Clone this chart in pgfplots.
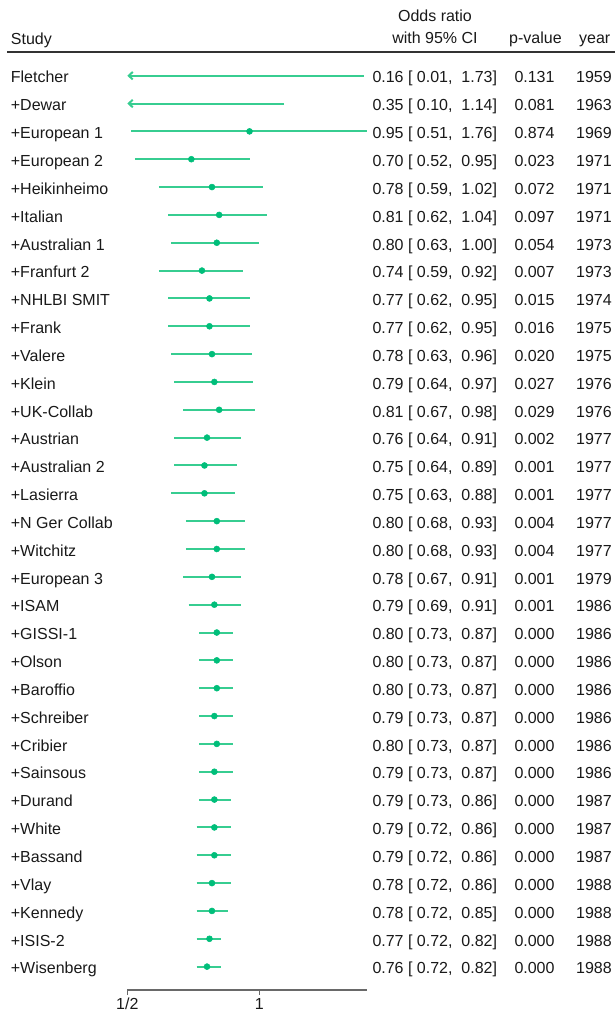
\documentclass[border=0pt]{standalone}
\usepackage{fontspec}
\setmainfont{Liberation Sans}
\usepackage{pgfplots}
\pgfplotsset{compat=1.18}
\usetikzlibrary{arrows.meta}
\definecolor{ciline}{RGB}{55,205,145}
\definecolor{cipt}{RGB}{0,190,122}
\definecolor{txt}{RGB}{25,25,25}
\definecolor{axgray}{RGB}{105,105,105}
\definecolor{hdrline}{RGB}{50,50,50}

% point estimates that fall inside the plotted range
\pgfplotstableread{
or row
0.95 3
0.70 4
0.78 5
0.81 6
0.80 7
0.74 8
0.77 9
0.77 10
0.78 11
0.79 12
0.81 13
0.76 14
0.75 15
0.75 16
0.80 17
0.80 18
0.78 19
0.79 20
0.80 21
0.80 22
0.80 23
0.79 24
0.80 25
0.79 26
0.79 27
0.79 28
0.79 29
0.78 30
0.78 31
0.77 32
0.76 33
}\ortable

\newcommand\fs{\fontsize{16}{19}\selectfont}
\newcommand\srow[5]{%
  \node[anchor=base west] at (10.7pt,{(930-(#1-1)*27.84)*1pt}) {#2};
  \node[anchor=base west] at (372.3pt,{(930-(#1-1)*27.84)*1pt}) {#3};
  \node[anchor=base west] at (514.3pt,{(930-(#1-1)*27.84)*1pt}) {#4};
  \node[anchor=base west] at (576pt,{(930-(#1-1)*27.84)*1pt}) {#5};
}

\begin{document}
\begin{tikzpicture}[every node/.style={font=\fs, text=txt, inner sep=0pt}]
\path[use as bounding box] (0pt,0pt) rectangle (615pt,1013pt);
\begin{axis}[
  at={(127.3pt,23pt)}, anchor=south west,
  scale only axis, width=239.6pt, height=938pt,
  xmode=log, xmin=0.5, xmax=1.76,
  ymin=0.149, ymax=33.84, y dir=reverse,
  axis x line*=bottom, axis y line=none,
  xtick={0.5,1}, xticklabels={1/2,1},
  xminorticks=false, ytick=\empty,
  tick align=outside, major tick length=4.5pt,
  axis line style={axgray, line width=1.5pt},
  xtick style={axgray, line width=1.5pt},
  xticklabel style={font=\fs, text=txt, inner sep=0pt, anchor=north, yshift=-3.5pt},
  every axis plot/.append style={line width=2pt},
]
% truncated intervals (lower limit below 1/2)
\addplot[ciline, -{Straight Barb[length=4pt,width=7.5pt]}] coordinates {(1.73,1) (0.5,1)};
\addplot[ciline, -{Straight Barb[length=4pt,width=7.5pt]}] coordinates {(1.14,2) (0.5,2)};
% confidence intervals
\addplot[ciline] coordinates {(0.51,3) (1.76,3)};
\addplot[ciline] coordinates {(0.52,4) (0.95,4)};
\addplot[ciline] coordinates {(0.59,5) (1.02,5)};
\addplot[ciline] coordinates {(0.62,6) (1.04,6)};
\addplot[ciline] coordinates {(0.63,7) (1.00,7)};
\addplot[ciline] coordinates {(0.59,8) (0.92,8)};
\addplot[ciline] coordinates {(0.62,9) (0.95,9)};
\addplot[ciline] coordinates {(0.62,10) (0.95,10)};
\addplot[ciline] coordinates {(0.63,11) (0.96,11)};
\addplot[ciline] coordinates {(0.64,12) (0.97,12)};
\addplot[ciline] coordinates {(0.67,13) (0.98,13)};
\addplot[ciline] coordinates {(0.64,14) (0.91,14)};
\addplot[ciline] coordinates {(0.64,15) (0.89,15)};
\addplot[ciline] coordinates {(0.63,16) (0.88,16)};
\addplot[ciline] coordinates {(0.68,17) (0.93,17)};
\addplot[ciline] coordinates {(0.68,18) (0.93,18)};
\addplot[ciline] coordinates {(0.67,19) (0.91,19)};
\addplot[ciline] coordinates {(0.69,20) (0.91,20)};
\addplot[ciline] coordinates {(0.73,21) (0.87,21)};
\addplot[ciline] coordinates {(0.73,22) (0.87,22)};
\addplot[ciline] coordinates {(0.73,23) (0.87,23)};
\addplot[ciline] coordinates {(0.73,24) (0.87,24)};
\addplot[ciline] coordinates {(0.73,25) (0.87,25)};
\addplot[ciline] coordinates {(0.73,26) (0.87,26)};
\addplot[ciline] coordinates {(0.73,27) (0.86,27)};
\addplot[ciline] coordinates {(0.72,28) (0.86,28)};
\addplot[ciline] coordinates {(0.72,29) (0.86,29)};
\addplot[ciline] coordinates {(0.72,30) (0.86,30)};
\addplot[ciline] coordinates {(0.72,31) (0.85,31)};
\addplot[ciline] coordinates {(0.72,32) (0.82,32)};
\addplot[ciline] coordinates {(0.72,33) (0.82,33)};
% point estimates
\addplot[only marks, mark=*, mark size=3pt, mark options={fill=cipt, draw=cipt, line width=0.5pt}] table[x=or, y=row] {\ortable};
\end{axis}

% header
\draw[hdrline, line width=1.5pt] (7.3pt,961pt) -- (615pt,961pt);
\node[anchor=base west] at (10.7pt,968.5pt) {Study};
\node[anchor=base] at (435pt,991.3pt) {Odds ratio};
\node[anchor=base] at (435pt,969pt) {with 95\% CI};
\node[anchor=base west] at (509pt,969pt) {p-value};
\node[anchor=base west] at (579pt,969pt) {year};

% rows
\srow{1}{Fletcher}{0.16 [ 0.01, \ 1.73]}{0.131}{1959}
\srow{2}{+Dewar}{0.35 [ 0.10, \ 1.14]}{0.081}{1963}
\srow{3}{+European 1}{0.95 [ 0.51, \ 1.76]}{0.874}{1969}
\srow{4}{+European 2}{0.70 [ 0.52, \ 0.95]}{0.023}{1971}
\srow{5}{+Heikinheimo}{0.78 [ 0.59, \ 1.02]}{0.072}{1971}
\srow{6}{+Italian}{0.81 [ 0.62, \ 1.04]}{0.097}{1971}
\srow{7}{+Australian 1}{0.80 [ 0.63, \ 1.00]}{0.054}{1973}
\srow{8}{+Franfurt 2}{0.74 [ 0.59, \ 0.92]}{0.007}{1973}
\srow{9}{+NHLBI SMIT}{0.77 [ 0.62, \ 0.95]}{0.015}{1974}
\srow{10}{+Frank}{0.77 [ 0.62, \ 0.95]}{0.016}{1975}
\srow{11}{+Valere}{0.78 [ 0.63, \ 0.96]}{0.020}{1975}
\srow{12}{+Klein}{0.79 [ 0.64, \ 0.97]}{0.027}{1976}
\srow{13}{+UK-Collab}{0.81 [ 0.67, \ 0.98]}{0.029}{1976}
\srow{14}{+Austrian}{0.76 [ 0.64, \ 0.91]}{0.002}{1977}
\srow{15}{+Australian 2}{0.75 [ 0.64, \ 0.89]}{0.001}{1977}
\srow{16}{+Lasierra}{0.75 [ 0.63, \ 0.88]}{0.001}{1977}
\srow{17}{+N Ger Collab}{0.80 [ 0.68, \ 0.93]}{0.004}{1977}
\srow{18}{+Witchitz}{0.80 [ 0.68, \ 0.93]}{0.004}{1977}
\srow{19}{+European 3}{0.78 [ 0.67, \ 0.91]}{0.001}{1979}
\srow{20}{+ISAM}{0.79 [ 0.69, \ 0.91]}{0.001}{1986}
\srow{21}{+GISSI-1}{0.80 [ 0.73, \ 0.87]}{0.000}{1986}
\srow{22}{+Olson}{0.80 [ 0.73, \ 0.87]}{0.000}{1986}
\srow{23}{+Baroffio}{0.80 [ 0.73, \ 0.87]}{0.000}{1986}
\srow{24}{+Schreiber}{0.79 [ 0.73, \ 0.87]}{0.000}{1986}
\srow{25}{+Cribier}{0.80 [ 0.73, \ 0.87]}{0.000}{1986}
\srow{26}{+Sainsous}{0.79 [ 0.73, \ 0.87]}{0.000}{1986}
\srow{27}{+Durand}{0.79 [ 0.73, \ 0.86]}{0.000}{1987}
\srow{28}{+White}{0.79 [ 0.72, \ 0.86]}{0.000}{1987}
\srow{29}{+Bassand}{0.79 [ 0.72, \ 0.86]}{0.000}{1987}
\srow{30}{+Vlay}{0.78 [ 0.72, \ 0.86]}{0.000}{1988}
\srow{31}{+Kennedy}{0.78 [ 0.72, \ 0.85]}{0.000}{1988}
\srow{32}{+ISIS-2}{0.77 [ 0.72, \ 0.82]}{0.000}{1988}
\srow{33}{+Wisenberg}{0.76 [ 0.72, \ 0.82]}{0.000}{1988}
\end{tikzpicture}
\end{document}
